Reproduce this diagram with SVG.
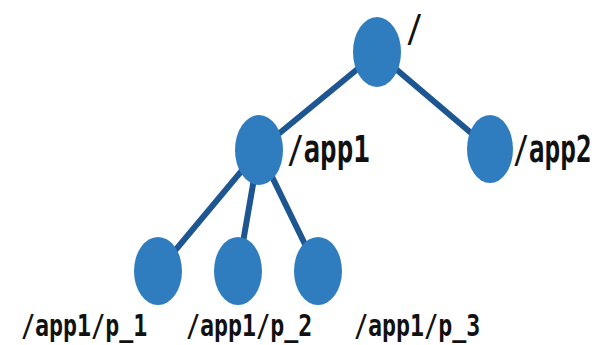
<svg xmlns="http://www.w3.org/2000/svg" width="610" height="345" viewBox="0 0 610 345">
<style>
.edge{stroke:#1d5690;stroke-width:6;stroke-linecap:round;fill:none}
.node{fill:#2f7dbf}
.lbl{font-family:"DejaVu Sans Mono","Liberation Mono",monospace;font-weight:bold;fill:#111}
.big{font-size:27.5px}
.small{font-size:23.3px}
</style>
<rect width="610" height="345" fill="#fff"/>
<g id="connectors">
<line class="edge" x1="377" y1="53" x2="259" y2="150"/>
<line class="edge" x1="377" y1="53" x2="490" y2="149"/>
<line class="edge" x1="259" y1="150" x2="158" y2="271"/>
<line class="edge" x1="259" y1="150" x2="238" y2="271"/>
<line class="edge" x1="259" y1="150" x2="318" y2="271"/>
</g>
<g id="root">
<ellipse class="node" cx="377" cy="52" rx="24" ry="35"/>
<text class="lbl big" transform="translate(406 41) scale(1 1.38)">/</text>
</g>
<g id="app1">
<ellipse class="node" cx="259" cy="150" rx="24" ry="35"/>
<text class="lbl big" transform="translate(287 162) scale(1 1.38)">/app1</text>
</g>
<g id="app2">
<ellipse class="node" cx="490" cy="149" rx="23" ry="34"/>
<text class="lbl big" transform="translate(513 162) scale(0.95 1.38)">/app2</text>
</g>
<g id="p1">
<ellipse class="node" cx="158" cy="271" rx="24" ry="34"/>
<text class="lbl small" transform="translate(21 336) scale(1 1.33)">/app1/p_1</text>
</g>
<g id="p2">
<ellipse class="node" cx="238" cy="271" rx="24" ry="34"/>
<text class="lbl small" transform="translate(186 336) scale(1 1.33)">/app1/p_2</text>
</g>
<g id="p3">
<ellipse class="node" cx="318" cy="271" rx="24" ry="34"/>
<text class="lbl small" transform="translate(354 336) scale(1 1.33)">/app1/p_3</text>
</g>
</svg>
